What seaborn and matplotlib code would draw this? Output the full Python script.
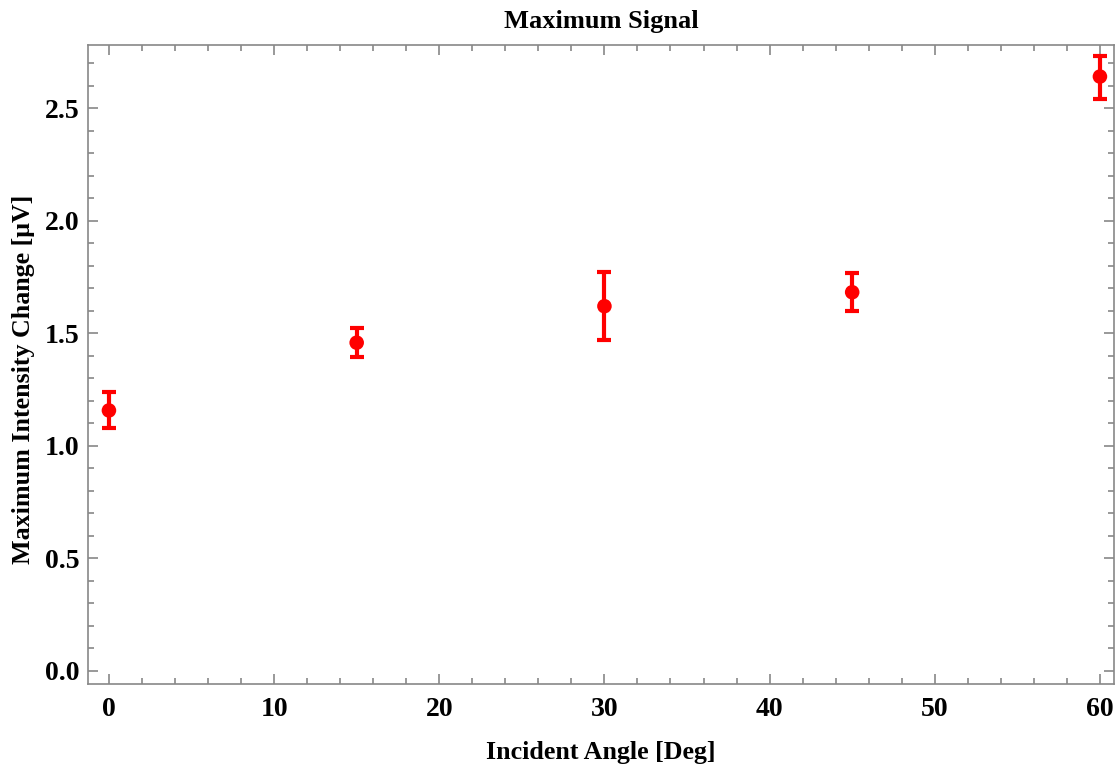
import matplotlib
matplotlib.use('Agg')
import matplotlib.pyplot as plt
import seaborn as sns
import pandas as pd
from matplotlib.ticker import MultipleLocator, FormatStrFormatter

# data
angles = [0, 15, 30, 45, 60]
signal = [1.157, 1.458, 1.620, 1.682, 2.640]
err_lo = [0.077, 0.064, 0.150, 0.085, 0.098]
err_hi = [0.080, 0.067, 0.153, 0.087, 0.090]

df = pd.DataFrame({'angle': angles, 'signal': signal})

sns.set_style('white')
plt.rcParams['font.family'] = ['Liberation Serif', 'DejaVu Serif']
plt.rcParams['font.weight'] = 'bold'
plt.rcParams['text.color'] = 'black'
plt.rcParams['axes.labelcolor'] = 'black'
plt.rcParams['xtick.color'] = 'black'
plt.rcParams['ytick.color'] = 'black'

fig = plt.figure(figsize=(11.19, 7.67), dpi=100)
ax = fig.add_axes([0.0786, 0.1082, 0.9169, 0.8331])

ax.errorbar(angles, signal, yerr=[err_lo, err_hi], fmt='none', ecolor='#ff0000',
            elinewidth=3, capsize=5, capthick=3, zorder=2)
sns.scatterplot(data=df, x='angle', y='signal', color='#ff0000', s=110,
                edgecolor='none', ax=ax, zorder=3)

ax.set_xlim(-1.27, 60.85)
ax.set_ylim(-0.058, 2.78)
ax.xaxis.set_major_locator(MultipleLocator(10))
ax.xaxis.set_minor_locator(MultipleLocator(2))
ax.yaxis.set_major_locator(MultipleLocator(0.5))
ax.yaxis.set_minor_locator(MultipleLocator(0.1))
ax.yaxis.set_major_formatter(FormatStrFormatter('%.1f'))

for s in ax.spines.values():
    s.set_color('#888888')
    s.set_linewidth(1.2)
ax.tick_params(which='both', direction='in', color='#888888', labelcolor='black',
               top=True, right=True, bottom=True, left=True,
               labelsize=20, width=1.2)
ax.tick_params(axis='x', which='both', pad=9)
ax.tick_params(axis='y', which='both', pad=6)
ax.tick_params(which='major', length=7)
ax.tick_params(which='minor', length=4)

ax.set_xlabel('Incident Angle [Deg]', fontsize=18.7, fontweight='bold', labelpad=14)
ax.set_ylabel('Maximum Intensity Change [μV]', fontsize=18.7, fontweight='bold')
ax.yaxis.set_label_coords(-0.052, 0.477)
ax.set_title('Maximum Signal', fontsize=19, fontweight='bold', pad=12)

fig.savefig('out.png', dpi=100)
